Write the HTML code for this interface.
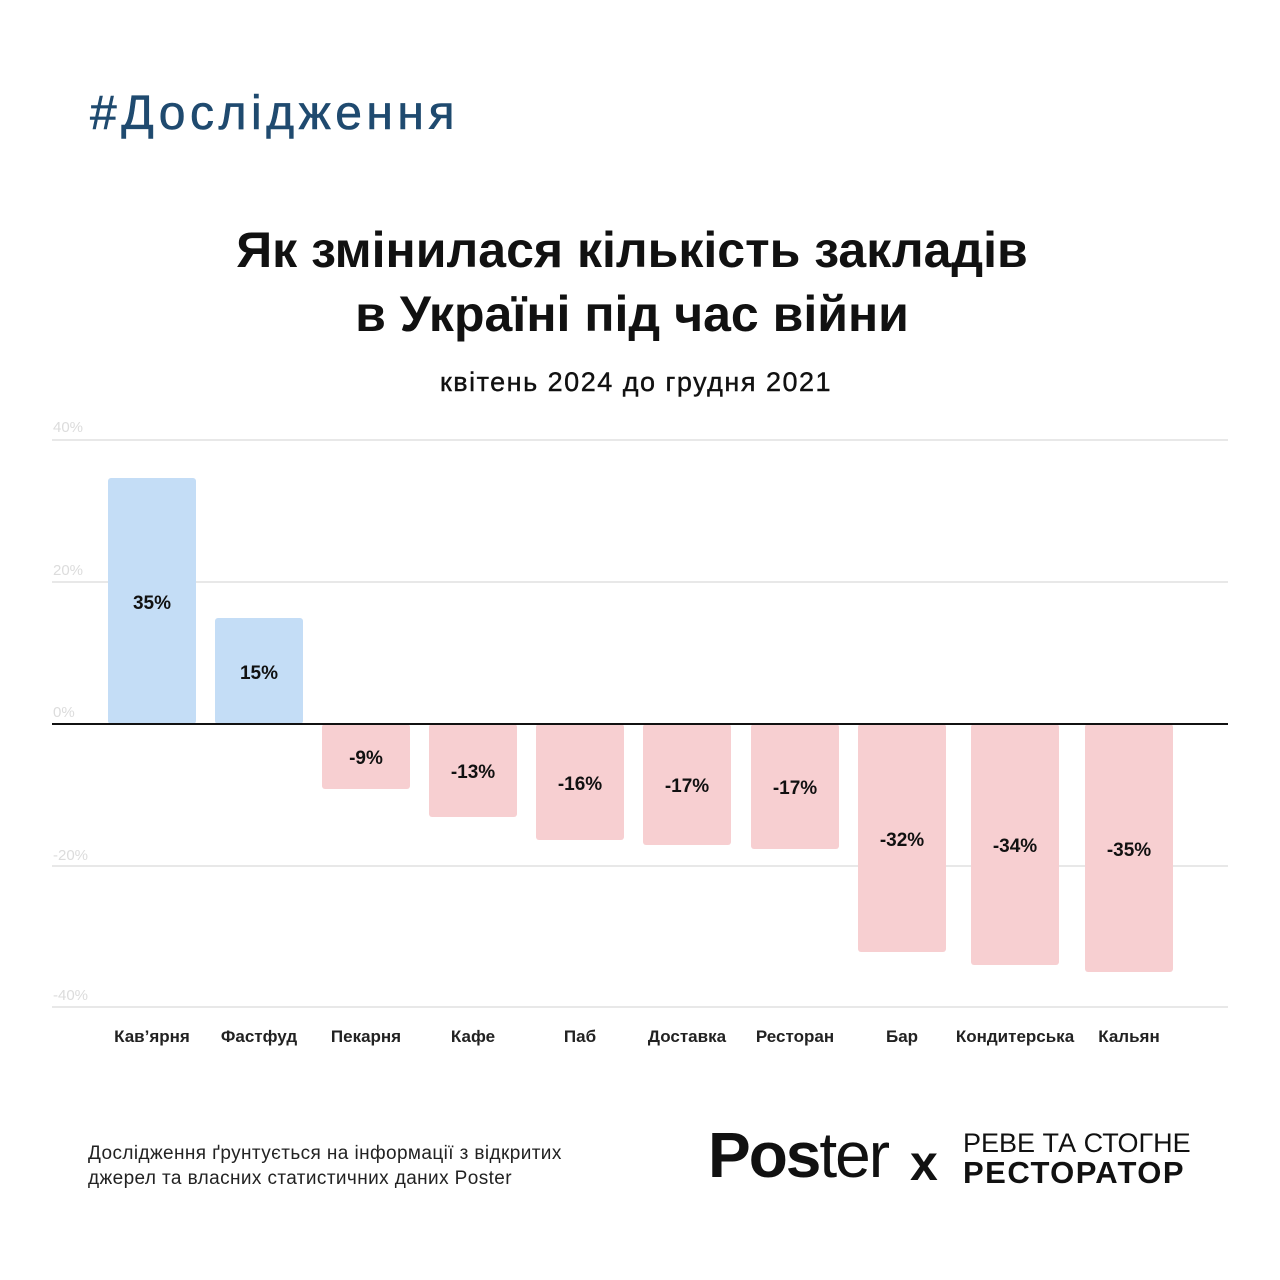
<!DOCTYPE html>
<html><head><meta charset="utf-8"><style>
body{margin:0;width:1280px;height:1280px;background:#fff;position:relative;overflow:hidden;font-family:"Liberation Sans","DejaVu Sans",sans-serif;color:#111}
.a{position:absolute}
.g{position:absolute;left:52px;width:1176px;height:2px;background:#e8e8e8}
.t{position:absolute;left:53px;font-size:15px;color:#dcdcdc}
.b{position:absolute;width:88px;border-radius:3px;display:flex;align-items:center;justify-content:center;font-weight:bold;font-size:19px;color:#111;padding-top:5px;box-sizing:border-box}
.p{background:#c4ddf6}.n{background:#f7cfd1}
.c{position:absolute;top:1027px;width:140px;text-align:center;font-weight:bold;font-size:17px;color:#222}
</style></head><body>
<div class="a" style="left:90px;top:86px;font-size:48px;letter-spacing:4.5px;color:#1f4a6f;-webkit-text-stroke:0.6px #1f4a6f">#Дослідження</div>
<div class="a" style="left:0;width:1264px;top:218px;text-align:center;font-size:50px;font-weight:bold;line-height:64px;color:#111">Як змінилася кількість закладів<br>в Україні під час війни</div>
<div class="a" style="left:0;width:1272px;top:367px;text-align:center;font-size:27px;letter-spacing:1.5px;color:#111;-webkit-text-stroke:0.4px #111">квітень 2024 до грудня 2021</div>

<div class="g" style="top:439px"></div><div class="t" style="top:419px">40%</div>
<div class="g" style="top:581px"></div><div class="t" style="top:562px">20%</div>
<div class="t" style="top:704px">0%</div>
<div class="g" style="top:865px"></div><div class="t" style="top:847px">-20%</div>
<div class="g" style="top:1006px"></div><div class="t" style="top:987px">-40%</div>

<div class="b p" style="left:108px;top:478px;height:246px">35%</div>
<div class="b p" style="left:215px;top:618px;height:106px">15%</div>
<div class="b n" style="left:322px;top:724px;height:65px">-9%</div>
<div class="b n" style="left:429px;top:724px;height:93px">-13%</div>
<div class="b n" style="left:536px;top:724px;height:116px">-16%</div>
<div class="b n" style="left:643px;top:724px;height:121px">-17%</div>
<div class="b n" style="left:751px;top:724px;height:125px">-17%</div>
<div class="b n" style="left:858px;top:724px;height:228px">-32%</div>
<div class="b n" style="left:971px;top:724px;height:241px">-34%</div>
<div class="b n" style="left:1085px;top:724px;height:248px">-35%</div>
<div class="a" style="left:52px;top:723px;width:1176px;height:2px;background:#111"></div>

<div class="c" style="left:82px">Кав’ярня</div>
<div class="c" style="left:189px">Фастфуд</div>
<div class="c" style="left:296px">Пекарня</div>
<div class="c" style="left:403px">Кафе</div>
<div class="c" style="left:510px">Паб</div>
<div class="c" style="left:617px">Доставка</div>
<div class="c" style="left:725px">Ресторан</div>
<div class="c" style="left:832px">Бар</div>
<div class="c" style="left:945px">Кондитерська</div>
<div class="c" style="left:1059px">Кальян</div>

<div class="a" style="left:88px;top:1141px;font-size:19px;letter-spacing:0.4px;line-height:25px;color:#222">Дослідження ґрунтується на інформації з відкритих<br>джерел та власних статистичних даних Poster</div>
<div class="a" style="left:708px;top:1118px;font-size:64px;letter-spacing:-2px;color:#111"><b>Pos</b>ter</div>
<div class="a" style="left:910px;top:1134px;font-size:50px;font-weight:bold;color:#111">x</div>
<div class="a" style="left:963px;top:1128px;font-size:27px;line-height:30px;color:#111">РЕВЕ ТА СТОГНЕ<br><b style="font-size:31px;letter-spacing:1.5px">РЕСТОРАТОР</b></div>
</body></html>
